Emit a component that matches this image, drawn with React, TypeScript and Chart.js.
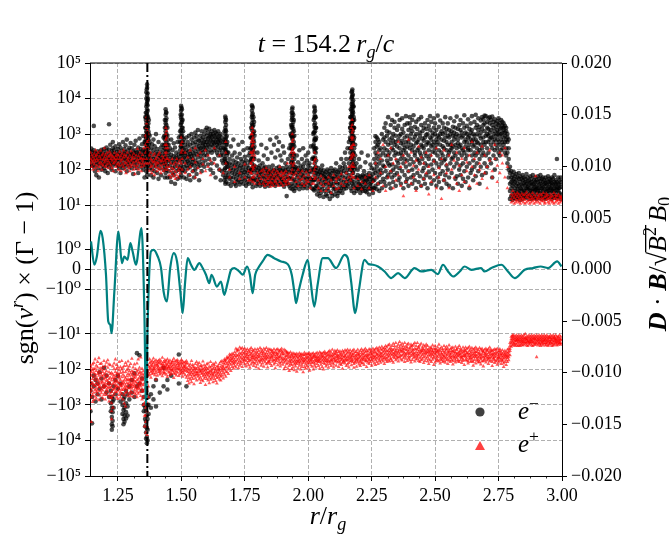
import React, { useEffect, useRef } from 'react';
import { Chart, registerables } from 'chart.js';

Chart.register(...registerables);

const SERIF = "'Liberation Serif', 'DejaVu Serif', serif";

// ---------------- data ----------------
const R_TICKS = [1.25, 1.5, 1.75, 2.0, 2.25, 2.5, 2.75, 3.0];
const GAMMA_TICKS = [1e5, 1e4, 1e3, 1e2, 10, 1, 0, -1, -10, -1e2, -1e3, -1e4, -1e5];
const GAMMA_TICK_LABELS = ['10⁵', '10⁴', '10³', '10²', '10¹', '10⁰', '0', '−10⁰', '−10¹', '−10²', '−10³', '−10⁴', '−10⁵'];
const DB_TICKS = [0.02, 0.015, 0.01, 0.005, 0, -0.005, -0.01, -0.015, -0.02];
const DB_TICK_LABELS = ['0.020', '0.015', '0.010', '0.005', '0.000', '−0.005', '−0.010', '−0.015', '−0.020'];
const SNAPSHOT_TIME = '154.2';
const MARKER_R = 1.366;

// D·B / sqrt(B^2) B0 profile (right axis)
const DB_PROFILE: [number, number][] = [
  [1.144, 0.00272], [1.157, 0.00046], [1.167, 0.00126], [1.181, 0.00375], [1.190, 0.00304], [1.203, -0.00051],
  [1.212, -0.00504], [1.220, -0.00536], [1.225, -0.00617], [1.236, -0.00213], [1.252, 0.00368], [1.266, 0.00062],
  [1.275, 0.00126], [1.288, 0.00094], [1.299, 0.00256], [1.308, 0.00175], [1.321, 0.00046], [1.343, 0.00401],
  [1.354, -0.00374], [1.361, -0.01311], [1.367, -0.00536], [1.380, 0.00175], [1.391, 0.00191], [1.407, 0.00126],
  [1.420, 0.00014], [1.430, -0.00213], [1.443, -0.0031], [1.456, 0.00014], [1.470, 0.00159], [1.483, 0.00078],
  [1.496, -0.00213], [1.505, -0.00423], [1.514, -0.00148], [1.525, 0.0011], [1.538, 0.00046], [1.551, -0.00003],
  [1.571, 0.00062], [1.584, 0.00014], [1.597, -0.00051], [1.610, -0.00132], [1.619, -0.00051], [1.640, -0.00165],
  [1.656, -0.00116], [1.669, -0.00245], [1.682, -0.00132], [1.696, -0.00003], [1.709, 0.00014], [1.728, -0.00019],
  [1.742, -0.00051], [1.759, 0.00029], [1.770, -0.00051], [1.781, -0.00229], [1.791, -0.00051], [1.803, 0.00014],
  [1.820, 0.00078], [1.840, 0.00142], [1.866, 0.0011], [1.893, 0.00078], [1.919, 0.00052], [1.935, -0.00051],
  [1.945, -0.00213], [1.952, -0.00326], [1.962, -0.00213], [1.978, -0.00051], [1.998, 0.00094], [2.008, -0.00083],
  [2.024, -0.00359], [2.037, -0.00148], [2.057, 0.0011], [2.077, 0.0011], [2.110, 0.00014], [2.143, 0.00142],
  [2.156, 0.0011], [2.169, -0.00116], [2.185, -0.00423], [2.199, -0.00213], [2.222, 0.00094], [2.238, 0.00052],
  [2.255, 0.00046], [2.275, 0.00029], [2.301, -0.00019], [2.327, -0.00083], [2.354, -0.00035], [2.380, -0.00083],
  [2.419, 0.00014], [2.446, -0.00019], [2.485, -0.00003], [2.511, -0.00045], [2.531, 0.00046], [2.551, -0.00019],
  [2.571, -0.00068], [2.597, -0.00019], [2.616, 0.00029], [2.643, -0.00003], [2.681, 0.00014], [2.695, -0.00019],
  [2.722, 0.00014], [2.761, 0.00046], [2.787, -0.00019], [2.814, -0.00083], [2.853, -0.00003], [2.886, 0.00014],
  [2.916, 0.00029], [2.945, 0.00014], [2.981, 0.00078], [2.998, 0.00029],
];

// electrons, sgn(v^r)(Γ-1) > 0 : [r, values...]
const ELECTRONS_UPPER: [number, number[]][] = [
  [1.140, [260, 180, 330]], [1.145, [150, 220, 390]], [1.150, [300, 130, 210]], [1.155, [350, 190, 260, 120, 1700]],
  [1.160, [230, 160, 90, 300]], [1.165, [200, 270, 140, 70]], [1.170, [180, 240, 330, 110]], [1.175, [150, 210, 60, 280]],
  [1.180, [250, 140, 320, 190]], [1.185, [170, 220, 100, 360]], [1.190, [260, 130, 300, 210]], [1.195, [150, 380, 240, 110]],
  [1.200, [190, 280, 160, 90]], [1.205, [230, 340, 130, 420]], [1.210, [200, 270, 150, 80]], [1.215, [360, 170, 230, 120, 1900]],
  [1.220, [290, 190, 140, 500]], [1.225, [220, 160, 330, 100]], [1.230, [250, 180, 400, 600, 130]], [1.235, [210, 290, 150, 350]],
  [1.240, [240, 170, 90, 450]], [1.245, [140, 230, 310, 190]],
  [1.250, [260, 380, 130, 200]], [1.255, [180, 520, 110, 300]], [1.260, [230, 150, 420, 80]], [1.265, [340, 200, 130, 260]],
  [1.270, [170, 600, 250, 110]], [1.275, [290, 140, 380, 210]], [1.280, [200, 480, 120, 310]], [1.285, [160, 260, 700, 90]],
  [1.290, [220, 350, 140, 180]], [1.295, [410, 190, 270, 120]], [1.300, [300, 150, 230, 560]], [1.305, [180, 400, 110, 260]],
  [1.310, [240, 320, 160, 75]], [1.315, [200, 500, 130, 290]], [1.320, [350, 170, 250, 650]], [1.325, [140, 300, 220, 110]],
  [1.330, [270, 420, 190, 80]], [1.335, [230, 160, 750, 320]], [1.340, [180, 380, 250, 120]], [1.345, [300, 140, 520, 210]],
  [1.350, [240, 880, 170, 100, 360]], [1.355, [200, 600, 300, 130, 60]],
  [1.358, [1500, 3000, 600, 350, 180]],
  [1.360, [500, 900, 1500, 2500, 4000, 200, 120, 300, 700]],
  [1.362, [3000, 6000, 10000, 15000, 800, 1200, 400, 2000, 250, 90]],
  [1.3635, [7000, 18000, 4000, 1100, 500]],
  [1.365, [20000, 25000, 12000, 8000, 5000, 3500, 1800, 1000, 600, 300, 150, 70]],
  [1.367, [14000, 9000, 6500, 4500, 2800, 1600, 900, 450, 180]],
  [1.3685, [10000, 3000, 1500, 700, 300]],
  [1.370, [2000, 1200, 700, 400, 250, 130]], [1.372, [1000, 500, 2500, 220]],
  [1.375, [300, 180, 600, 110, 900]], [1.380, [220, 400, 140, 70]], [1.385, [160, 280, 520, 100]], [1.390, [350, 200, 130, 700, 60]],
  [1.395, [240, 450, 170, 90]], [1.400, [190, 300, 1000, 120]], [1.405, [270, 150, 380, 80]], [1.410, [210, 600, 140, 55]],
  [1.415, [320, 180, 250, 110]], [1.420, [160, 420, 230, 70]], [1.425, [280, 140, 500, 200]], [1.430, [350, 190, 800, 100]],
  [1.433, [900, 500, 250, 150]],
  [1.435, [1500, 2500, 700, 400, 200, 120, 60]], [1.438, [5000, 3500, 2000, 1200, 800, 500, 300, 150, 80]],
  [1.4395, [4200, 2400, 1500, 900, 450, 220]],
  [1.441, [4000, 2800, 1800, 1000, 600, 350, 180, 100]], [1.445, [1500, 900, 500, 250, 130, 60]], [1.447, [700, 350, 180]],
  [1.450, [300, 180, 90, 500]], [1.455, [220, 130, 400, 60]], [1.460, [160, 700, 260, 45]], [1.465, [350, 110, 200, 80]],
  [1.470, [240, 150, 550, 70]], [1.475, [190, 420, 120, 40]], [1.480, [300, 160, 230, 90]], [1.485, [600, 210, 130, 55]],
  [1.490, [270, 800, 180, 100]],
  [1.495, [1200, 600, 350, 200, 110, 60]], [1.497, [3500, 1800, 900, 450]],
  [1.499, [6200, 4500, 3000, 2000, 1300, 800, 450, 250, 130, 70]], [1.5005, [5500, 2600, 1100, 600, 280]],
  [1.502, [5000, 3500, 2200, 1500, 900, 550, 300, 160, 90]], [1.505, [2500, 1500, 800, 400, 200, 100]], [1.507, [1200, 600, 300]],
  [1.510, [400, 220, 120, 700, 60]], [1.515, [300, 160, 500, 90, 250]], [1.520, [200, 800, 130, 350, 55]],
  [1.525, [450, 260, 110, 600, 170]], [1.530, [330, 150, 900, 230, 70]], [1.535, [500, 190, 280, 120, 50]],
  [1.540, [700, 240, 380, 140, 1000]], [1.545, [300, 550, 160, 90, 200]], [1.550, [420, 800, 250, 130, 60]],
  [1.555, [600, 330, 180, 1100, 100]], [1.560, [500, 270, 900, 150, 75]], [1.565, [380, 700, 220, 120, 1300]],
  [1.570, [650, 300, 450, 160, 50]], [1.575, [900, 400, 250, 130, 550]], [1.580, [350, 700, 1200, 200, 90]],
  [1.585, [550, 300, 800, 150, 450]], [1.590, [1000, 420, 600, 250, 120]], [1.595, [700, 1300, 350, 500, 180]],
  [1.600, [900, 600, 400, 1500, 250]], [1.605, [1100, 500, 750, 300, 140]], [1.610, [800, 1400, 450, 600, 200]],
  [1.615, [650, 1000, 350, 900, 100]],
  [1.620, [500, 800, 1200, 300, 150]], [1.625, [700, 1000, 450, 600, 80]], [1.630, [900, 550, 1300, 350, 200]],
  [1.635, [600, 800, 400, 1100, 60]], [1.640, [1000, 700, 500, 300, 130]], [1.645, [800, 1200, 450, 600, 250]],
  [1.650, [550, 900, 350, 700, 100]], [1.655, [400, 650, 1000, 250, 50]], [1.660, [300, 500, 800, 180, 90]],
  [1.665, [250, 150, 400, 70, 600]],
  [1.670, [1200, 700, 400, 200, 100, 50]], [1.673, [3100, 2200, 1500, 1000, 600, 350, 200, 110, 60, 40]],
  [1.6745, [2800, 1300, 700, 380, 170]],
  [1.676, [2500, 1800, 1200, 800, 500, 300, 150, 80, 45]], [1.679, [900, 500, 250, 120, 60]], [1.681, [600, 300, 150]],
  [1.685, [120, 70, 40, 300]], [1.690, [90, 150, 55, 200]], [1.695, [60, 110, 35, 450]], [1.700, [140, 80, 45, 250]],
  [1.705, [100, 60, 180, 700]], [1.710, [75, 130, 40, 300]], [1.715, [55, 95, 160, 35]], [1.720, [120, 70, 220, 45]],
  [1.725, [85, 150, 50, 500]], [1.730, [65, 110, 38, 280]], [1.735, [130, 80, 200, 45]], [1.740, [95, 55, 170, 600]],
  [1.745, [70, 120, 40, 350]], [1.750, [150, 85, 50, 230]], [1.755, [100, 60, 180, 35]], [1.760, [80, 130, 45, 400]],
  [1.765, [110, 65, 250, 40]], [1.770, [90, 160, 55, 300]], [1.7725, [800, 400, 180, 90]],
  [1.775, [1500, 800, 400, 200, 100, 50]], [1.778, [6500, 4500, 3000, 2000, 1300, 800, 500, 300, 150, 80, 40]],
  [1.7795, [6000, 3400, 1800, 900, 450, 220, 110]],
  [1.781, [5500, 3800, 2500, 1600, 1000, 600, 350, 200, 100, 55, 32]], [1.784, [3000, 1800, 1100, 700, 400, 220, 120, 60]],
  [1.7865, [2200, 1200, 600, 300, 130]], [1.788, [900, 450, 200, 100, 50]],
  [1.795, [80, 50, 120, 35]], [1.800, [60, 95, 40, 300]], [1.805, [110, 70, 45, 180]], [1.810, [55, 85, 35, 130]],
  [1.815, [75, 45, 100, 500]], [1.820, [90, 60, 38, 150]], [1.825, [65, 110, 42, 250]], [1.830, [50, 80, 120, 33]],
  [1.835, [100, 60, 40, 400]], [1.840, [70, 45, 90, 200]], [1.845, [55, 120, 35, 80]], [1.850, [85, 60, 40, 700]],
  [1.855, [65, 100, 45, 300]], [1.860, [75, 50, 130, 38]], [1.865, [95, 60, 40, 500]], [1.870, [55, 85, 35, 220]],
  [1.875, [110, 70, 45, 800]], [1.880, [65, 90, 40, 350]], [1.885, [80, 50, 120, 600]], [1.890, [60, 100, 38, 250]],
  [1.895, [90, 55, 40, 180]], [1.900, [70, 110, 45, 450]], [1.905, [50, 85, 33, 300]], [1.910, [95, 60, 40, 150]],
  [1.915, [75, 45, 120, 18]], [1.920, [60, 100, 40, 200]], [1.925, [85, 55, 35, 400]],
  [1.930, [1000, 500, 250, 120, 60, 30]], [1.9325, [1800, 900, 400, 160]],
  [1.935, [4000, 2500, 1500, 900, 500, 280, 150, 80, 40]], [1.9365, [5000, 3200, 1600, 800, 380, 180, 90]],
  [1.938, [5600, 4000, 2800, 1800, 1100, 700, 400, 220, 110, 55, 28]], [1.941, [3500, 2200, 1400, 850, 500, 280, 150, 75, 35]],
  [1.943, [2500, 1200, 600, 260, 120]], [1.945, [900, 450, 200, 100, 50, 25]],
  [1.950, [80, 45, 120, 30]], [1.955, [60, 100, 35, 250]], [1.960, [110, 70, 40, 160]], [1.965, [50, 85, 28, 350]],
  [1.970, [90, 55, 130, 35]], [1.975, [70, 40, 100, 200]], [1.980, [120, 65, 30, 400]], [1.985, [80, 50, 150, 35]],
  [1.990, [60, 95, 40, 250]], [1.995, [100, 55, 30, 180]], [2.000, [75, 45, 130, 300]], [2.005, [90, 60, 35, 150]],
  [2.010, [55, 110, 40, 450]], [2.015, [85, 50, 30, 200]],
  [2.020, [1000, 450, 220, 100, 50, 28]], [2.0215, [2500, 1100, 500, 200]],
  [2.024, [6000, 4200, 2800, 1800, 1100, 650, 380, 200, 100, 50, 26]], [2.0255, [5400, 3300, 1500, 750, 320, 150, 70]],
  [2.027, [4500, 3000, 2000, 1200, 700, 400, 220, 110, 55, 30]], [2.0295, [3000, 1500, 700, 300, 120]],
  [2.031, [1500, 800, 400, 180, 80, 35]],
  [2.035, [60, 35, 90, 20]], [2.040, [45, 75, 25, 110]], [2.045, [55, 30, 85, 18]], [2.050, [70, 40, 100, 22]],
  [2.055, [50, 28, 80, 130]], [2.060, [65, 35, 95, 17]], [2.065, [45, 75, 25, 60]], [2.070, [85, 40, 55, 20]],
  [2.075, [60, 30, 100, 18]], [2.080, [50, 75, 25, 40]], [2.085, [70, 35, 90, 15]], [2.090, [45, 60, 22, 110]],
  [2.095, [80, 35, 55, 18]], [2.100, [55, 90, 28, 40]], [2.105, [65, 30, 100, 20]], [2.110, [45, 75, 25, 150]],
  [2.115, [85, 40, 60, 18]], [2.120, [55, 30, 95, 22]], [2.125, [70, 40, 120, 25]], [2.130, [50, 85, 30, 200]],
  [2.135, [65, 35, 110, 22]], [2.140, [90, 45, 150, 28]], [2.145, [60, 120, 35, 300]], [2.150, [80, 45, 200, 30]],
  [2.155, [100, 55, 400, 35]], [2.160, [150, 70, 600, 40]],
  [2.165, [1500, 800, 400, 200, 100, 50]], [2.166, [3000, 1500, 700, 300]],
  [2.168, [5000, 3000, 2000, 1200, 700, 400, 220, 120, 60, 30]],
  [2.171, [15000, 10000, 7000, 4500, 3000, 1800, 1100, 650, 380, 200, 100, 50, 25]],
  [2.1725, [16000, 11000, 6000, 3800, 2000, 1000, 500, 220, 110]],
  [2.174, [18000, 12000, 8000, 5500, 3500, 2200, 1400, 850, 500, 280, 150, 80, 40]],
  [2.1755, [13000, 7000, 4500, 2500, 1200, 600, 260, 120]],
  [2.177, [9000, 6000, 4000, 2500, 1500, 900, 550, 300, 160, 80, 35]], [2.179, [6000, 3000, 1500, 700, 300, 130]],
  [2.181, [2500, 1500, 800, 400, 200, 100, 45, 22]], [2.185, [500, 250, 120, 60, 30]],
  [2.190, [60, 35, 25, 150]], [2.195, [45, 70, 30, 100]], [2.200, [55, 28, 40, 200]], [2.205, [65, 35, 22, 120]],
  [2.210, [40, 60, 28, 300]], [2.215, [50, 32, 70, 25]], [2.220, [45, 65, 30, 90]], [2.225, [55, 25, 40, 160]],
  [2.230, [70, 35, 50, 23]], [2.235, [45, 60, 28, 250]], [2.240, [55, 30, 80, 20]], [2.245, [40, 65, 35, 140]],
  [2.250, [60, 28, 45, 110]], [2.255, [50, 75, 30, 22]],
  [2.260, [200, 100, 50, 400, 30]], [2.265, [600, 300, 150, 80, 35, 870]], [2.270, [800, 450, 250, 120, 60, 28]],
  [2.275, [500, 700, 200, 90, 40]], [2.280, [350, 150, 600, 70, 25]], [2.285, [250, 100, 45, 400]],
  [2.290, [180, 80, 30, 1000]], [2.295, [300, 130, 55, 700]],
  [2.300, [1500, 400, 120, 45, 800]], [2.305, [250, 2000, 600, 90, 35]], [2.310, [900, 180, 60, 1200, 350]],
  [2.315, [500, 3000, 150, 70, 250]], [2.320, [1100, 300, 40, 700, 130]], [2.325, [200, 1800, 550, 85, 30]],
  [2.330, [800, 140, 2500, 400, 60]], [2.335, [350, 1000, 100, 45, 650]], [2.340, [1500, 250, 70, 500, 2200]],
  [2.345, [600, 120, 900, 35, 300]], [2.350, [180, 1300, 450, 80, 3500]], [2.355, [700, 280, 50, 1700, 150]],
  [2.360, [400, 2500, 110, 900, 60]], [2.365, [1000, 200, 550, 40, 300]], [2.370, [250, 1400, 90, 650, 2800]],
  [2.375, [500, 150, 1100, 30, 350]], [2.380, [1800, 400, 70, 800, 200]], [2.385, [300, 3200, 600, 120, 45]],
  [2.390, [900, 180, 2000, 55, 450]], [2.395, [600, 1300, 250, 90, 35]], [2.400, [3000, 400, 140, 750, 2000]],
  [2.405, [200, 1000, 60, 500, 1500]], [2.410, [1200, 350, 100, 2500, 40]], [2.415, [450, 3400, 700, 160, 70]],
  [2.420, [850, 250, 1600, 50, 300]], [2.425, [2200, 550, 120, 1000, 30]], [2.430, [350, 1400, 80, 600, 200]],
  [2.435, [700, 2600, 180, 45, 400]], [2.440, [1100, 300, 900, 65, 150]], [2.445, [500, 1800, 250, 35, 3000]],
  [2.450, [200, 750, 1200, 90, 450]], [2.455, [1500, 400, 110, 650, 55]], [2.460, [300, 2000, 800, 150, 40]],
  [2.465, [950, 240, 1400, 70, 500]], [2.470, [600, 1000, 130, 30, 2500]], [2.475, [350, 1700, 550, 85, 200]],
  [2.480, [1300, 250, 60, 800, 3200]], [2.485, [450, 2200, 140, 700, 40]], [2.490, [900, 320, 1100, 100, 500]],
  [2.495, [2800, 600, 180, 50, 1500]], [2.500, [400, 1000, 80, 300, 2000]], [2.505, [700, 150, 1300, 35, 500]],
  [2.510, [250, 900, 600, 60, 3300]], [2.515, [1600, 350, 120, 800, 45]], [2.520, [500, 2400, 200, 1000, 75]],
  [2.525, [300, 700, 1200, 30, 150]], [2.530, [1000, 450, 90, 2000, 250]], [2.535, [650, 1500, 180, 50, 400]],
  [2.540, [200, 800, 1100, 70, 3000]], [2.545, [1400, 350, 130, 600, 40]], [2.550, [500, 2000, 250, 900, 100]],
  [2.555, [800, 300, 1300, 60, 35]], [2.560, [350, 1000, 150, 2800, 500]], [2.565, [1200, 600, 80, 400, 200]],
  [2.570, [450, 1600, 220, 30, 900]], [2.575, [700, 300, 1100, 120, 2300]], [2.580, [250, 850, 500, 55, 1500]],
  [2.585, [1000, 400, 150, 3100, 65]], [2.590, [550, 1400, 200, 700, 40]], [2.595, [300, 900, 1800, 100, 450]],
  [2.600, [1300, 500, 130, 2500, 70]], [2.605, [400, 1100, 250, 800, 35]], [2.610, [900, 2000, 150, 350, 55]],
  [2.615, [600, 300, 1500, 90, 3400]], [2.620, [1100, 450, 200, 700, 45]], [2.625, [250, 1700, 600, 120, 1000]],
  [2.630, [800, 350, 2600, 60, 400]], [2.635, [1400, 500, 150, 900, 30]], [2.640, [350, 1100, 700, 80, 2000]],
  [2.645, [600, 250, 1300, 3200, 100]], [2.650, [1000, 450, 180, 700, 50]], [2.655, [2200, 300, 900, 120, 500]],
  [2.660, [700, 1500, 250, 3500, 65]], [2.665, [400, 1000, 150, 600, 1800]], [2.670, [1300, 550, 2800, 90, 300]],
  [2.675, [900, 350, 1600, 200, 40]], [2.680, [500, 2400, 750, 120, 1100]], [2.685, [3000, 400, 1400, 70, 250]],
  [2.690, [800, 1800, 300, 600, 2600]], [2.695, [1200, 500, 2000, 150, 3300]], [2.700, [600, 3200, 900, 250, 80]],
  [2.705, [1500, 400, 2200, 1000, 120]], [2.710, [900, 2800, 600, 300, 1400]], [2.715, [2000, 700, 3000, 200, 1100]],
  [2.720, [1300, 500, 2500, 800, 150]], [2.725, [800, 1800, 400, 3100, 60]], [2.730, [2200, 1000, 600, 250, 1500]],
  [2.735, [700, 2600, 1200, 350, 100]], [2.740, [1600, 500, 2000, 900, 200]], [2.745, [1000, 2300, 700, 400, 1300]],
  [2.750, [1800, 600, 2800, 300, 1100]], [2.755, [900, 2000, 1400, 500, 250]], [2.760, [1500, 700, 2500, 350, 1000]],
  [2.765, [2200, 1100, 600, 1700, 400]], [2.770, [1300, 800, 2000, 500, 1500]], [2.775, [900, 1700, 600, 1100, 300]],
  [2.780, [1500, 700, 1200, 400, 250]], [2.785, [1000, 600, 300, 800, 150]], [2.790, [400, 200, 100, 700, 60]],
  [2.795, [80, 40, 25, 120, 15]], [2.800, [60, 30, 18, 90, 45]], [2.805, [35, 70, 20, 50, 14]], [2.810, [25, 55, 40, 16, 85]],
  [2.815, [45, 30, 65, 18, 22]], [2.820, [20, 50, 35, 75, 15]], [2.825, [40, 28, 60, 17, 24]], [2.830, [55, 22, 35, 16, 80]],
  [2.835, [30, 45, 20, 65, 14]], [2.840, [38, 25, 55, 18, 28]], [2.845, [50, 20, 35, 70, 15]], [2.850, [27, 42, 18, 60, 22]],
  [2.855, [35, 55, 16, 25, 45]], [2.860, [22, 40, 30, 75, 17]], [2.865, [48, 28, 18, 60, 33]], [2.870, [30, 20, 50, 15, 38]],
  [2.875, [42, 26, 65, 17, 22]], [2.880, [25, 35, 55, 15, 45]], [2.885, [38, 20, 28, 70, 16]], [2.890, [50, 30, 18, 40, 24]],
  [2.895, [27, 45, 16, 60, 33]], [2.900, [35, 22, 50, 15, 28]], [2.905, [45, 30, 18, 65, 25]], [2.910, [22, 38, 55, 16, 30]],
  [2.915, [40, 25, 17, 48, 70]], [2.920, [30, 55, 20, 35, 15]], [2.925, [45, 25, 60, 18, 32]], [2.930, [28, 40, 16, 50, 22]],
  [2.935, [35, 20, 60, 15, 42]], [2.940, [50, 28, 18, 38, 24]], [2.945, [25, 45, 65, 16, 30]], [2.950, [40, 22, 55, 18, 33]],
  [2.955, [30, 50, 17, 27, 45]], [2.960, [42, 25, 60, 15, 35]], [2.965, [28, 38, 18, 55, 22]], [2.970, [45, 30, 16, 70, 25]],
  [2.975, [35, 22, 50, 18, 40]], [2.980, [27, 45, 200, 16, 32]], [2.985, [40, 25, 60, 18, 30]], [2.990, [50, 30, 17, 38, 22]],
  [2.995, [33, 45, 20, 60, 15]],
];

// electrons, sgn(v^r)(Γ-1) < 0
const ELECTRONS_LOWER: [number, number[]][] = [
  [1.142, [-1500, -400, -250]], [1.148, [-3300, -600]], [1.155, [-300, -150]], [1.162, [-800, -200]],
  [1.170, [-250, -500]], [1.178, [-120, -350]], [1.185, [-700, -180]], [1.195, [-300, -90]], [1.205, [-450, -150]],
  [1.215, [-250, -600]], [1.222, [-400, -900, -1500]], [1.226, [-600, -1200, -2200, -3500, -5000]],
  [1.229, [-800, -1600, -2800, -4000]], [1.233, [-300, -700, -1200]], [1.240, [-200, -500]], [1.250, [-150, -350]],
  [1.260, [-250, -800]], [1.268, [-500, -1000, -1800]], [1.272, [-700, -1400, -2500, -3500]],
  [1.276, [-600, -1200, -2000, -3000]], [1.282, [-400, -900, -1600, -2400]], [1.288, [-500, -1100, -2000]],
  [1.295, [-300, -700]], [1.305, [-200, -450]], [1.315, [-130, -600]], [1.325, [-35, -300]], [1.335, [-250, -40]],
  [1.345, [-400, -180]], [1.352, [-600, -1000, -1500]], [1.357, [-1200, -2500, -4000]],
  [1.361, [-1500, -3000, -6000, -9000]], [1.364, [-2000, -4500, -8000, -12000]], [1.367, [-1000, -2500, -5000, -10000]],
  [1.371, [-600, -1000, -1800]], [1.380, [-500, -1200]], [1.390, [-300, -700]], [1.400, [-1100, -200]], [1.415, [-450]],
  [1.430, [-90, -300]], [1.445, [-370, -200]], [1.460, [-150]], [1.490, [-38, -250]], [1.520, [-300]],
];

// positrons, > 0
const POSITRONS_UPPER: [number, number[]][] = [
  [1.142, [200, 150, 300]], [1.147, [250, 120, 180]], [1.152, [160, 220, 100]], [1.157, [280, 140, 190]],
  [1.162, [170, 240, 110, 350]], [1.167, [130, 200, 260]], [1.172, [180, 90, 300]], [1.177, [230, 150, 120]],
  [1.182, [200, 340, 160]], [1.187, [140, 250, 100]], [1.192, [190, 280, 130]], [1.197, [220, 160, 400]],
  [1.202, [120, 260, 180]], [1.207, [300, 140, 200]], [1.212, [170, 230, 110]], [1.217, [250, 150, 320]],
  [1.222, [130, 200, 270]], [1.227, [180, 110, 240]], [1.232, [220, 150, 90]], [1.237, [160, 300, 200]],
  [1.242, [120, 240, 180]], [1.247, [200, 140, 270]],
  [1.252, [150, 250, 100]], [1.257, [200, 130, 320]], [1.262, [170, 90, 240]], [1.267, [280, 140, 190]],
  [1.272, [120, 220, 350]], [1.277, [160, 100, 260]], [1.282, [230, 150, 80]], [1.287, [190, 300, 130]],
  [1.292, [110, 210, 170]], [1.297, [250, 140, 90]], [1.302, [180, 330, 120]], [1.307, [140, 230, 200]],
  [1.312, [100, 280, 160]], [1.317, [210, 130, 75]], [1.322, [170, 250, 110]], [1.327, [130, 190, 380]],
  [1.332, [240, 100, 160]], [1.337, [150, 300, 200]], [1.342, [120, 210, 90]], [1.347, [260, 150, 180]],
  [1.352, [200, 130, 400]],
  [1.359, [300, 500, 150, 900]], [1.363, [800, 1500, 3000, 2000, 400, 200]], [1.366, [1200, 2500, 600, 350, 150, 100]],
  [1.369, [700, 400, 250, 1000]],
  [1.374, [150, 250, 90]], [1.379, [200, 120, 300]], [1.384, [130, 180, 80]], [1.389, [250, 100, 160]],
  [1.394, [170, 280, 70]], [1.399, [120, 200, 140]], [1.404, [220, 90, 160]], [1.409, [150, 260, 110]],
  [1.414, [100, 190, 300]], [1.419, [170, 130, 80]], [1.424, [240, 110, 180]], [1.429, [140, 210, 90]],
  [1.436, [500, 300, 180, 100]], [1.439, [1500, 1000, 700, 400, 250, 150]], [1.442, [1200, 800, 500, 300, 200, 120]],
  [1.446, [400, 200, 100]],
  [1.452, [120, 70, 180]], [1.458, [90, 150, 60]], [1.464, [110, 200, 75]], [1.470, [140, 65, 100]],
  [1.476, [85, 160, 55]], [1.482, [120, 70, 200]], [1.488, [95, 150, 60]], [1.494, [180, 110, 80]],
  [1.499, [800, 500, 300, 150]], [1.503, [600, 350, 200, 100]],
  [1.515, [150, 80, 300]], [1.525, [220, 100]], [1.535, [120, 350, 70]], [1.545, [200, 90]], [1.555, [160, 400, 60]],
  [1.565, [110, 250]], [1.575, [300, 80]], [1.585, [140, 200]], [1.595, [90, 350]], [1.605, [250, 120]], [1.615, [180, 70]],
  [1.630, [150, 400]], [1.650, [100, 250]], [1.665, [80]], [1.675, [300, 150, 600]], [1.690, [60, 100]],
  [1.710, [45, 120]], [1.730, [80, 55]], [1.750, [60, 140]], [1.765, [90, 50]],
  [1.773, [150, 80, 300, 50]], [1.776, [600, 300, 150, 80, 1000]], [1.779, [1500, 1000, 700, 450, 250, 120, 60]],
  [1.782, [1200, 800, 500, 300, 180, 100, 45]], [1.785, [600, 350, 200, 110, 60]], [1.789, [250, 130, 70, 40]],
  [1.800, [50, 80]], [1.808, [40, 65]], [1.815, [55, 90]], [1.822, [70, 40, 100]], [1.828, [50, 85, 35]],
  [1.834, [65, 45, 110]], [1.840, [80, 38, 55]], [1.846, [60, 95, 42]], [1.852, [45, 70, 33]], [1.858, [85, 55, 40]],
  [1.864, [65, 35, 100]], [1.870, [50, 75, 45]], [1.876, [90, 40, 60]], [1.882, [55, 80, 35]], [1.888, [70, 45, 120]],
  [1.894, [40, 65, 85]], [1.900, [55, 35, 75]], [1.906, [80, 48, 60]], [1.912, [45, 90, 38]], [1.918, [65, 50, 150]],
  [1.924, [75, 40, 55]],
  [1.933, [300, 150, 80, 50]], [1.937, [1000, 600, 350, 200, 100]], [1.940, [700, 400, 250, 130, 60]], [1.944, [300, 150, 70]],
  [1.952, [45, 80]], [1.960, [60, 35, 100]], [1.968, [50, 75]], [1.976, [40, 90, 55]], [1.984, [65, 35]],
  [1.992, [50, 85, 40]], [2.000, [70, 45]], [2.008, [55, 30, 95]], [2.016, [40, 65]],
  [2.022, [150, 80, 40]], [2.025, [300, 180, 100, 55]], [2.029, [200, 120, 60]],
  [2.040, [30, 50]], [2.050, [40, 25, 65]], [2.060, [35, 55]], [2.070, [45, 25]], [2.080, [30, 60, 40]], [2.090, [50, 22]],
  [2.100, [35, 70]], [2.110, [45, 28, 55]], [2.120, [60, 30]], [2.130, [40, 75]], [2.140, [55, 35]], [2.150, [80, 45]],
  [2.160, [120, 60]],
  [2.167, [400, 200, 100, 50]], [2.170, [1500, 800, 450, 250, 130, 70]], [2.173, [2500, 1800, 1100, 700, 400, 220, 120, 60]],
  [2.176, [1300, 800, 500, 280, 150, 80]], [2.180, [500, 250, 120, 60, 30]],
  [2.195, [35, 55]], [2.210, [28, 45]], [2.225, [40, 60]], [2.240, [30, 70]], [2.255, [45, 25]],
  [2.265, [150, 60]], [2.275, [300, 40]], [2.285, [80, 200]], [2.295, [35, 500]], [2.305, [120, 25]], [2.315, [60, 250]],
  [2.325, [400, 90]], [2.335, [30, 150]], [2.345, [200, 50]], [2.355, [70, 600]], [2.365, [120, 35]], [2.375, [250, 18]],
  [2.385, [45, 160]], [2.395, [90, 700]], [2.405, [300, 40]], [2.415, [60, 130]], [2.425, [180, 25]], [2.435, [100, 450]],
  [2.445, [35, 220]], [2.455, [150, 55]], [2.465, [80, 300]], [2.475, [20, 120]], [2.485, [250, 45]], [2.495, [70, 170]],
  [2.505, [400, 30]], [2.515, [110, 60]], [2.525, [200, 15]], [2.535, [50, 350]], [2.545, [140, 80]], [2.555, [30, 250]],
  [2.565, [100, 500]], [2.575, [60, 180]], [2.585, [300, 40]], [2.595, [130, 25]], [2.605, [200, 70]], [2.615, [45, 400]],
  [2.625, [160, 90]], [2.635, [35, 250]], [2.645, [120, 600]], [2.655, [70, 200]], [2.665, [300, 40]], [2.675, [150, 100]],
  [2.685, [55, 450]], [2.695, [250, 80]], [2.705, [120, 30]], [2.715, [350, 180]], [2.725, [90, 60]], [2.735, [200, 500]],
  [2.745, [45, 130]], [2.755, [300, 80]], [2.765, [150, 250]], [2.775, [60, 400]], [2.785, [120, 30]],
  [2.800, [15, 20, 12]], [2.806, [13, 18, 25]], [2.812, [16, 11, 21]], [2.818, [14, 19, 12]], [2.824, [17, 13, 22]],
  [2.830, [12, 15, 20]], [2.836, [18, 14, 11]], [2.842, [13, 21, 16]], [2.848, [15, 12, 19]], [2.854, [20, 14, 11]],
  [2.860, [12, 17, 23]], [2.866, [16, 13, 19]], [2.872, [14, 20, 11]], [2.878, [18, 12, 15]], [2.884, [13, 16, 22]],
  [2.890, [19, 11, 14]], [2.896, [12, 17, 65]], [2.902, [15, 21, 13]], [2.908, [18, 12, 16]], [2.914, [11, 14, 20]],
  [2.920, [16, 19, 13]], [2.926, [13, 22, 15]], [2.932, [17, 12, 11]], [2.938, [14, 18, 21]], [2.944, [12, 15, 19]],
  [2.950, [16, 13, 11]], [2.956, [20, 14, 17]], [2.962, [13, 18, 12]], [2.968, [15, 11, 22]], [2.974, [12, 16, 19]],
  [2.980, [18, 13, 14]], [2.986, [14, 20, 11]], [2.992, [16, 12, 18]], [2.998, [13, 17, 15]],
];

// positrons, < 0
const POSITRONS_LOWER: [number, number[]][] = [
  [1.140, [-210, -75, -460, -130, -1300, -95, -320]], [1.145, [-150, -610, -88, -3000, -260, -118, -400]],
  [1.150, [-340, -105, -72, -520, -185, -240, -820]], [1.155, [-125, -450, -275, -66, -160, -720, -98]],
  [1.160, [-95, -200, -380, -140, -580, -52, -290]], [1.165, [-430, -78, -170, -240, -110, -350, -660]],
  [1.170, [-280, -135, -62, -500, -195, -88, -400]], [1.175, [-115, -320, -220, -730, -48, -150, -265]],
  [1.180, [-180, -92, -410, -125, -305, -550, -70]], [1.185, [-68, -250, -145, -360, -470, -102, -215]],
  [1.190, [-305, -160, -85, -230, -640, -118, -390]], [1.195, [-140, -520, -270, -58, -190, -330, -100]],
  [1.200, [-240, -80, -130, -455, -175, -700, -290]], [1.205, [-375, -112, -205, -65, -300, -155, -520]],
  [1.210, [-90, -260, -420, -150, -55, -210, -345]], [1.215, [-185, -580, -120, -310, -240, -800, -72]],
  [1.220, [-330, -135, -76, -480, -170, -255, -610]], [1.225, [-125, -430, -890, -1500, -2500, -205, -300, -640]],
  [1.230, [-260, -82, -560, -1200, -175, -380, -140]], [1.235, [-150, -355, -98, -235, -500, -68, -190]],
  [1.240, [-420, -118, -280, -165, -52, -330, -220]], [1.245, [-95, -205, -610, -135, -290, -440, -75]],
  [1.250, [-310, -160, -88, -400, -230, -130, -680]], [1.255, [-180, -520, -245, -62, -355, -105, -150]],
  [1.260, [-125, -290, -440, -198, -86, -620, -265]], [1.265, [-370, -100, -165, -300, -58, -240, -480]],
  [1.270, [-220, -700, -140, -380, -118, -270, -90]], [1.275, [-160, -335, -905, -80, -205, -530, -250]],
  [1.280, [-290, -120, -460, -1100, -180, -66, -360]], [1.285, [-105, -240, -155, -420, -310, -78, -200]],
  [1.290, [-345, -190, -570, -95, -265, -135, -60]], [1.295, [-200, -82, -330, -150, -480, -235, -112]],
  [1.300, [-130, -415, -260, -70, -185, -560, -300]], [1.305, [-275, -145, -50, -350, -110, -220, -450]],
  [1.310, [-88, -310, -195, -590, -160, -250, -120]], [1.315, [-390, -215, -130, -72, -280, -470, -175]],
  [1.320, [-160, -98, -340, -230, -510, -140, -300]], [1.325, [-250, -600, -115, -365, -68, -200, -420]],
  [1.330, [-140, -285, -190, -52, -330, -480, -105]], [1.335, [-355, -125, -240, -440, -90, -170, -270]],
  [1.340, [-205, -555, -150, -300, -46, -235, -120]], [1.345, [-95, -360, -180, -700, -265, -135, -420]],
  [1.350, [-280, -150, -1000, -410, -112, -600, -200]], [1.355, [-170, -900, -2000, -4000, -360, -240, -130]],
  [1.360, [-505, -1200, -3000, -6000, -2000, -800, -250]], [1.365, [-150, -400, -1500, -7000, -4000, -250, -900]],
  [1.370, [-82, -148, -303, -605, -121]],
  [1.375, [-88, -52, -140, -67, -101]], [1.380, [-63, -118, -79, -95, -170]], [1.385, [-110, -72, -58, -134, -83]],
  [1.390, [-49, -92, -125, -106, -66]], [1.395, [-77, -145, -61, -87, -99]], [1.400, [-128, -55, -71, -112, -190]],
  [1.405, [-94, -80, -150, -62, -74]], [1.410, [-57, -103, -86, -120, -68]], [1.415, [-115, -65, -97, -53, -138]],
  [1.420, [-73, -130, -60, -89, -108]], [1.425, [-99, -47, -82, -155, -70]], [1.430, [-62, -91, -117, -76, -132]],
  [1.435, [-84, -126, -54, -104, -64]], [1.440, [-140, -70, -93, -59, -81]], [1.445, [-52, -109, -75, -162, -96]],
  [1.450, [-90, -61, -122, -85, -67]], [1.455, [-119, -78, -56, -98, -143]], [1.460, [-66, -135, -88, -72, -105]],
  [1.465, [-101, -58, -113, -64, -83]], [1.470, [-75, -95, -50, -127, -175]], [1.475, [-133, -69, -87, -108, -60]],
  [1.480, [-57, -116, -79, -92, -148]], [1.485, [-96, -63, -124, -55, -71]], [1.490, [-80, -152, -68, -102, -89]],
  [1.495, [-61, -98, -115, -74, -137]], [1.500, [-107, -54, -86, -129, -66]], [1.505, [-72, -121, -95, -60, -160]],
  [1.510, [-130, -81, -65, -110, -90]], [1.515, [-86, -63, -145, -76, -104]], [1.520, [-68, -112, -92, -170, -58]],
  [1.525, [-95, -150, -68, -210, -118]], [1.530, [-132, -80, -176, -105, -250]], [1.535, [-72, -115, -142, -90, -195]],
  [1.540, [-165, -98, -58, -125, -230]], [1.545, [-110, -185, -84, -140, -75]], [1.550, [-88, -128, -260, -102, -155]],
  [1.555, [-145, -70, -115, -180, -92]], [1.560, [-62, -138, -97, -205, -120]], [1.565, [-118, -86, -160, -74, -135]],
  [1.570, [-190, -105, -66, -148, -95]], [1.575, [-80, -122, -170, -112, -240]], [1.580, [-135, -90, -78, -198, -108]],
  [1.585, [-100, -155, -125, -60, -215]], [1.590, [-76, -112, -182, -94, -142]], [1.595, [-162, -130, -85, -275, -104]],
  [1.600, [-92, -72, -140, -118, -185]], [1.605, [-125, -205, -98, -150, -68]], [1.610, [-84, -115, -170, -132, -245]],
  [1.615, [-150, -90, -62, -110, -195]], [1.620, [-106, -178, -135, -80, -122]], [1.625, [-70, -142, -96, -230, -160]],
  [1.630, [-130, -88, -118, -75, -185]], [1.635, [-98, -210, -152, -108, -65]], [1.640, [-175, -120, -84, -140, -250]],
  [1.645, [-80, -104, -165, -128, -92]], [1.650, [-145, -70, -115, -190, -100]], [1.655, [-88, -160, -132, -62, -205]],
  [1.660, [-110, -78, -98, -150, -58]], [1.665, [-66, -125, -84, -180, -94]], [1.670, [-102, -58, -140, -72, -52]],
  [1.675, [-55, -90, -115, -64, -160]], [1.680, [-85, -50, -70, -120, -45]], [1.685, [-62, -100, -48, -78, -135]],
  [1.690, [-44, -68, -92, -56, -38]], [1.695, [-74, -40, -58, -110, -50]], [1.700, [-52, -85, -36, -64, -44]],
  [1.705, [-38, -60, -95, -48, -70]], [1.710, [-66, -42, -55, -33, -80]],
  [1.715, [-38, -26, -61, -47, -88]], [1.720, [-55, -31, -42, -74, -28]], [1.725, [-29, -66, -39, -50, -93]],
  [1.730, [-44, -24, -58, -35, -79]], [1.735, [-62, -37, -27, -48, -70]], [1.740, [-33, -52, -85, -41, -25]],
  [1.745, [-47, -29, -64, -36, -56]], [1.750, [-26, -43, -71, -53, -34]], [1.755, [-58, -38, -30, -82, -45]],
  [1.760, [-35, -67, -49, -27, -40]], [1.765, [-51, -31, -44, -76, -60]], [1.770, [-28, -57, -39, -33, -90]],
  [1.775, [-46, -72, -25, -54, -37]], [1.780, [-63, -34, -48, -29, -42]], [1.785, [-30, -50, -80, -41, -65]],
  [1.790, [-54, -27, -36, -69, -45]], [1.795, [-39, -61, -32, -48, -86]], [1.800, [-27, -44, -73, -35, -53]],
  [1.805, [-60, -30, -46, -40, -95]], [1.810, [-36, -55, -25, -65, -43]], [1.815, [-49, -33, -78, -28, -57]],
  [1.820, [-31, -68, -42, -52, -37]], [1.825, [-57, -26, -47, -84, -34]], [1.830, [-42, -38, -63, -29, -50]],
  [1.835, [-25, -53, -35, -71, -45]], [1.840, [-66, -40, -30, -48, -88]], [1.845, [-34, -59, -44, -27, -62]],
  [1.850, [-48, -28, -70, -38, -55]], [1.855, [-29, -46, -33, -80, -41]], [1.860, [-61, -36, -52, -31, -44]],
  [1.865, [-40, -73, -27, -56, -35]], [1.870, [-53, -32, -45, -66, -92]], [1.875, [-35, -58, -39, -28, -49]],
  [1.880, [-27, -43, -76, -50, -37]], [1.885, [-64, -34, -55, -30, -46]], [1.890, [-45, -69, -29, -41, -83]],
  [1.895, [-31, -51, -62, -36, -26]], [1.900, [-56, -38, -47, -74, -33]], [1.905, [-37, -65, -28, -52, -98]],
  [1.910, [-50, -30, -43, -85, -60]], [1.915, [-42, -71, -35, -55, -32]], [1.920, [-66, -39, -48, -95, -34]],
  [1.925, [-36, -58, -80, -44, -110]], [1.930, [-52, -33, -70, -45, -62]], [1.935, [-75, -41, -56, -38, -98]],
  [1.940, [-44, -63, -35, -88, -50]], [1.945, [-59, -37, -105, -47, -72]], [1.950, [-38, -82, -54, -66, -42]],
  [1.955, [-70, -45, -36, -60, -115]], [1.960, [-48, -92, -62, -40, -55]], [1.965, [-35, -57, -78, -44, -68]],
  [1.970, [-63, -42, -100, -51, -38]], [1.975, [-46, -74, -55, -37, -85]], [1.980, [-58, -39, -66, -120, -48]],
  [1.985, [-40, -86, -52, -61, -34]], [1.990, [-72, -47, -38, -56, -95]], [1.995, [-50, -64, -43, -80, -36]],
  [2.000, [-37, -58, -90, -46, -68]], [2.005, [-65, -41, -53, -35, -108]], [2.010, [-45, -76, -60, -39, -52]],
  [2.015, [-55, -36, -84, -48, -66]], [2.020, [-42, -63, -47, -100, -35]], [2.025, [-68, -39, -56, -44, -78]],
  [2.030, [-36, -52, -88, -60, -45]], [2.035, [-58, -43, -34, -70, -50]], [2.040, [-47, -80, -55, -38, -62]],
  [2.045, [-33, -60, -44, -95, -52]], [2.050, [-64, -40, -50, -35, -74]], [2.055, [-42, -57, -86, -46, -36]],
  [2.060, [-53, -34, -66, -44, -100]], [2.065, [-38, -70, -48, -58, -32]], [2.070, [-60, -44, -36, -82, -51]],
  [2.075, [-35, -55, -74, -41, -64]], [2.080, [-49, -32, -58, -90, -40]], [2.085, [-62, -38, -45, -30, -70]],
  [2.090, [-34, -53, -80, -42, -57]], [2.095, [-56, -28, -40, -66, -47]], [2.100, [-41, -72, -35, -50, -88]],
  [2.105, [-30, -48, -61, -37, -55]], [2.110, [-58, -36, -44, -78, -32]], [2.115, [-45, -64, -29, -52, -40]],
  [2.120, [-33, -50, -85, -42, -60]], [2.125, [-61, -38, -47, -31, -70]], [2.130, [-40, -75, -55, -35, -48]],
  [2.135, [-52, -30, -42, -66, -95]], [2.140, [-36, -58, -33, -46, -62]], [2.145, [-68, -41, -53, -29, -44]],
  [2.150, [-31, -50, -80, -38, -57]], [2.155, [-55, -35, -45, -72, -28]], [2.160, [-43, -66, -32, -52, -88]],
  [2.165, [-29, -48, -60, -40, -36]], [2.170, [-58, -34, -44, -76, -50]], [2.175, [-38, -62, -30, -54, -42]],
  [2.180, [-47, -28, -70, -36, -90]], [2.185, [-60, -42, -51, -33, -65]], [2.190, [-32, -55, -40, -84, -46]],
  [2.195, [-50, -37, -64, -28, -56]], [2.200, [-41, -72, -34, -48, -38]], [2.205, [-57, -30, -45, -62, -80]],
  [2.210, [-35, -52, -27, -41, -68]], [2.215, [-48, -66, -38, -31, -55]], [2.220, [-29, -44, -75, -50, -36]],
  [2.225, [-54, -33, -42, -60, -26]], [2.230, [-40, -58, -30, -85, -47]], [2.235, [-31, -49, -65, -37, -43]],
  [2.240, [-52, -27, -40, -56, -70]], [2.245, [-36, -62, -33, -46, -28]], [2.250, [-45, -30, -54, -78, -38]],
  [2.255, [-26, -41, -35, -60, -50]], [2.260, [-48, -32, -68, -42, -29]], [2.265, [-34, -55, -27, -45, -75]],
  [2.270, [-40, -25, -50, -36, -62]], [2.275, [-30, -46, -38, -70, -28]], [2.280, [-52, -33, -42, -24, -58]],
  [2.285, [-27, -40, -65, -35, -47]], [2.290, [-44, -29, -36, -55, -23]], [2.295, [-33, -60, -42, -26, -50]],
  [2.300, [-25, -38, -30, -48, -70]], [2.305, [-46, -28, -55, -35, -22]], [2.310, [-31, -50, -24, -40, -62]],
  [2.315, [-37, -21, -45, -30, -56]], [2.320, [-27, -42, -34, -60, -20]], [2.325, [-49, -25, -37, -30, -52]],
  [2.330, [-22, -33, -58, -40, -28]], [2.335, [-36, -19, -29, -45, -65]], [2.340, [-26, -48, -35, -22, -40]],
  [2.345, [-41, -30, -55, -18, -33]], [2.350, [-23, -37, -27, -50, -44]], [2.355, [-34, -20, -46, -31, -60]],
  [2.360, [-45, -28, -24, -38, -17]], [2.365, [-21, -52, -33, -42, -29]], [2.370, [-30, -25, -40, -19, -56]],
  [2.375, [-38, -22, -48, -32, -27]], [2.380, [-26, -44, -18, -35, -62]], [2.385, [-50, -29, -37, -23, -41]],
  [2.390, [-24, -34, -58, -28, -20]], [2.395, [-36, -19, -43, -31, -50]], [2.400, [-28, -46, -25, -55, -36]],
  [2.405, [-42, -23, -33, -20, -64]], [2.410, [-31, -54, -27, -38, -22]], [2.415, [-20, -35, -47, -29, -40]],
  [2.420, [-45, -26, -36, -60, -18]], [2.425, [-27, -41, -22, -33, -52]], [2.430, [-37, -18, -50, -28, -44]],
  [2.435, [-23, -32, -40, -58, -25]], [2.440, [-48, -29, -21, -36, -62]], [2.445, [-30, -44, -34, -19, -55]],
  [2.450, [-39, -24, -52, -31, -27]], [2.455, [-21, -36, -28, -46, -66]], [2.460, [-43, -30, -58, -23, -35]],
  [2.465, [-26, -50, -38, -33, -20]], [2.470, [-34, -22, -45, -60, -29]], [2.475, [-52, -32, -27, -40, -70]],
  [2.480, [-24, -41, -35, -56, -30]], [2.485, [-37, -28, -62, -25, -46]], [2.490, [-30, -53, -21, -39, -33]],
  [2.495, [-44, -26, -48, -35, -75]], [2.500, [-27, -38, -31, -64, -22]], [2.505, [-50, -34, -42, -28, -58]],
  [2.510, [-33, -24, -55, -45, -30]], [2.515, [-40, -60, -29, -36, -20]], [2.520, [-26, -44, -52, -31, -68]],
  [2.525, [-55, -35, -24, -47, -38]], [2.530, [-30, -50, -40, -27, -62]], [2.535, [-45, -22, -58, -34, -42]],
  [2.540, [-36, -65, -31, -49, -26]], [2.545, [-28, -40, -46, -23, -55]], [2.550, [-52, -33, -26, -70, -38]],
  [2.555, [-34, -57, -44, -30, -21]], [2.560, [-41, -27, -62, -37, -48]], [2.565, [-25, -46, -35, -54, -30]],
  [2.570, [-58, -31, -42, -24, -72]], [2.575, [-32, -50, -28, -45, -38]], [2.580, [-44, -23, -56, -34, -64]],
  [2.585, [-29, -40, -48, -27, -36]], [2.590, [-54, -35, -25, -60, -43]], [2.595, [-37, -62, -32, -41, -22]],
  [2.600, [-26, -46, -38, -55, -30]], [2.605, [-48, -29, -66, -35, -44]], [2.610, [-33, -52, -24, -42, -58]],
  [2.615, [-42, -28, -37, -75, -31]], [2.620, [-24, -45, -54, -30, -40]], [2.625, [-57, -34, -27, -49, -36]],
  [2.630, [-35, -60, -42, -25, -68]], [2.635, [-46, -30, -52, -38, -23]], [2.640, [-28, -48, -35, -62, -42]],
  [2.645, [-40, -25, -58, -32, -50]], [2.650, [-62, -37, -45, -28, -78]], [2.655, [-31, -54, -26, -43, -36]],
  [2.660, [-45, -33, -68, -39, -24]], [2.665, [-27, -50, -41, -57, -32]], [2.670, [-55, -36, -29, -46, -64]],
  [2.675, [-38, -62, -34, -25, -44]], [2.680, [-48, -28, -52, -40, -72]], [2.685, [-30, -44, -37, -60, -26]],
  [2.690, [-58, -33, -46, -31, -82]], [2.695, [-36, -55, -28, -42, -50]], [2.700, [-44, -26, -64, -38, -34]],
  [2.705, [-29, -48, -40, -56, -30]], [2.710, [-52, -35, -27, -45, -70]], [2.715, [-40, -60, -33, -24, -48]],
  [2.720, [-31, -46, -56, -37, -28]], [2.725, [-62, -38, -43, -30, -80]], [2.730, [-35, -52, -29, -48, -40]],
  [2.735, [-45, -27, -66, -36, -55]], [2.740, [-28, -43, -38, -60, -32]], [2.745, [-56, -35, -50, -26, -74]],
  [2.750, [-39, -64, -31, -44, -47]], [2.755, [-48, -30, -58, -36, -27]], [2.760, [-33, -52, -42, -70, -38]],
  [2.765, [-60, -37, -46, -29, -55]], [2.770, [-42, -68, -34, -50, -85]], [2.775, [-36, -47, -62, -40, -30]],
  [2.780, [-55, -40, -75, -45, -33]], [2.785, [-48, -35, -62, -42, -28]], [2.790, [-32, -45, -26, -55, -38]],
  [2.795, [-22, -30, -18, -40, -26]],
  [2.800, [-14, -19, -12, -23, -16]], [2.805, [-17, -12, -21, -14, -11]], [2.810, [-13, -20, -15, -11, -18]],
  [2.815, [-19, -14, -22, -12, -16]], [2.820, [-11, -16, -13, -20, -15]], [2.825, [-18, -12, -15, -22, -14]],
  [2.830, [-15, -21, -11, -17, -13]], [2.835, [-12, -16, -19, -14, -22]], [2.840, [-20, -13, -15, -11, -17]],
  [2.845, [-14, -18, -12, -21, -16]], [2.850, [-17, -11, -20, -13, -15]], [2.855, [-13, -19, -14, -17, -10]],
  [2.860, [-21, -15, -12, -18, -14]], [2.865, [-12, -17, -22, -14, -16]], [2.870, [-16, -13, -11, -20, -18]],
  [2.875, [-19, -14, -17, -12, -15]], [2.880, [-11, -21, -15, -13, -17]], [2.885, [-18, -12, -16, -22, -14]],
  [2.890, [-14, -17, -13, -11, -20]], [2.895, [-20, -15, -18, -14, -12]], [2.900, [-13, -45, -16, -19, -11]],
  [2.905, [-17, -12, -21, -15, -14]], [2.910, [-15, -19, -13, -11, -18]], [2.915, [-12, -16, -20, -14, -22]],
  [2.920, [-19, -13, -15, -17, -11]], [2.925, [-14, -21, -12, -16, -18]], [2.930, [-16, -11, -19, -13, -15]],
  [2.935, [-21, -15, -14, -18, -12]], [2.940, [-13, -18, -11, -16, -20]], [2.945, [-17, -14, -22, -12, -15]],
  [2.950, [-12, -20, -16, -19, -13]], [2.955, [-18, -13, -15, -11, -17]], [2.960, [-15, -22, -12, -14, -19]],
  [2.965, [-11, -16, -18, -21, -13]], [2.970, [-20, -14, -13, -16, -12]], [2.975, [-14, -19, -17, -11, -15]],
  [2.980, [-16, -12, -21, -18, -14]], [2.985, [-13, -17, -15, -12, -20]], [2.990, [-19, -14, -11, -16, -18]],
  [2.995, [-12, -18, -20, -14, -15]],
];

// ---------------- symlog axis (linthresh 2, linscale 1) ----------------
const LINTHRESH = 2;
const LINSCALE_ADJ = 1 / (1 - 1 / 10);
function symlog(v: number): number {
  const a = Math.abs(v);
  if (a <= LINTHRESH) return (v / LINTHRESH) * LINSCALE_ADJ;
  return Math.sign(v) * (LINSCALE_ADJ + Math.log10(a / LINTHRESH));
}

const toPoints = (cols: [number, number[]][]) =>
  cols.flatMap(([x, ys]) => ys.map((y) => ({ x, y: symlog(y) })));

// ---------------- rich text helper ----------------
type Run = { t: string; it?: boolean; b?: boolean; s?: number; dy?: number; over?: boolean };
function runFont(r: Run, base: number) {
  return `${r.it ? 'italic ' : ''}${r.b ? 'bold ' : ''}${(base * (r.s ?? 1)).toFixed(1)}px ${SERIF}`;
}
function drawRuns(ctx: CanvasRenderingContext2D, runs: Run[], base: number, x: number, y: number, align: 'center' | 'left') {
  const ws = runs.map((r) => {
    ctx.font = runFont(r, base);
    return ctx.measureText(r.t).width;
  });
  const total = ws.reduce((a, b) => a + b, 0);
  let cx = align === 'center' ? x - total / 2 : x;
  let overStart: number | null = null;
  let overEnd = 0;
  let overY = 0;
  runs.forEach((r, i) => {
    ctx.font = runFont(r, base);
    ctx.fillText(r.t, cx, y + (r.dy ?? 0) * base);
    if (r.t === '√') {
      const m = ctx.measureText('√');
      overY = y - m.actualBoundingBoxAscent;
      overStart = cx + m.actualBoundingBoxRight - 1;
    }
    if (r.over) overEnd = cx + ws[i];
    cx += ws[i];
  });
  if (overStart !== null) ctx.fillRect(overStart, overY, overEnd - overStart + 2, Math.max(1, base * 0.05));
}

const decorPlugin = {
  id: 'decor',
  afterDatasetsDraw(chart: any) {
    const { ctx, chartArea: a, scales } = chart;
    const px = scales.x.getPixelForValue(MARKER_R);
    ctx.save();
    ctx.strokeStyle = '#000';
    ctx.lineWidth = 2;
    ctx.setLineDash([9, 3, 2, 3]);
    ctx.beginPath();
    ctx.moveTo(px, a.top);
    ctx.lineTo(px, a.bottom);
    ctx.stroke();
    ctx.restore();
  },
  afterDraw(chart: any) {
    const { ctx, chartArea: a, scales } = chart;
    ctx.save();
    ctx.fillStyle = '#000';
    ctx.fillRect(a.left, a.top - 0.5, a.right - a.left, 1);
    ctx.strokeStyle = '#000';
    ctx.lineWidth = 0.8;
    for (let v = 1.1875; v < 3.0; v += 0.0625) {
      if (R_TICKS.some((t) => Math.abs(t - v) < 1e-6)) continue;
      const x = Math.round(scales.x.getPixelForValue(v)) + 0.5;
      ctx.beginPath();
      ctx.moveTo(x, a.bottom);
      ctx.lineTo(x, a.bottom + 2.5);
      ctx.stroke();
    }
    ctx.fillStyle = '#000';
    ctx.textBaseline = 'alphabetic';
    const cxm = (a.left + a.right) / 2;
    drawRuns(ctx, [
      { t: 't', it: true }, { t: ' = ' }, { t: SNAPSHOT_TIME }, { t: '\u2009' }, { t: 'r', it: true },
      { t: 'g', it: true, s: 0.7, dy: 0.22 }, { t: '/' }, { t: 'c', it: true },
    ], 26, cxm, 52, 'center');
    drawRuns(ctx, [
      { t: 'r', it: true }, { t: '/' }, { t: 'r', it: true }, { t: 'g', it: true, s: 0.7, dy: 0.22 },
    ], 26, cxm + 2, 524, 'center');
    ctx.save();
    ctx.translate(33, 278);
    ctx.rotate(-Math.PI / 2);
    drawRuns(ctx, [
      { t: 'sgn(' }, { t: 'v', it: true }, { t: 'r', it: true, s: 0.7, dy: -0.38 }, { t: ')' }, { t: ' × ' },
      { t: '(Γ − 1)' },
    ], 26, 0, 0, 'center');
    ctx.restore();
    ctx.save();
    ctx.translate(666, 264);
    ctx.rotate(-Math.PI / 2);
    drawRuns(ctx, [
      { t: 'D', it: true, b: true }, { t: ' · ' }, { t: 'B', it: true, b: true }, { t: '/' }, { t: '√' },
      { t: 'B', it: true, over: true }, { t: '2', s: 0.7, dy: -0.4, over: true }, { t: '\u2009' },
      { t: 'B', it: true }, { t: '0', s: 0.7, dy: 0.2 },
    ], 26, 0, 0, 'center');
    ctx.restore();
    ctx.fillStyle = 'rgba(0,0,0,0.75)';
    ctx.beginPath();
    ctx.arc(480, 412, 4.6, 0, Math.PI * 2);
    ctx.fill();
    ctx.fillStyle = 'rgba(255,0,0,0.75)';
    ctx.beginPath();
    ctx.moveTo(480, 441);
    ctx.lineTo(485, 450);
    ctx.lineTo(475, 450);
    ctx.closePath();
    ctx.fill();
    ctx.fillStyle = '#000';
    drawRuns(ctx, [{ t: 'e', it: true }, { t: '−', s: 0.7, dy: -0.42 }], 25, 518, 419, 'left');
    drawRuns(ctx, [{ t: 'e', it: true }, { t: '+', s: 0.7, dy: -0.42 }], 25, 518, 452, 'left');
    ctx.restore();
  },
};

export default function App() {
  const ref = useRef<HTMLCanvasElement>(null);
  useEffect(() => {
    if (!ref.current) return;
    Chart.defaults.font.family = SERIF;
    const tickFont = { family: SERIF, size: 18 };
    const chart = new Chart(ref.current, {
      type: 'scatter',
      data: {
        datasets: [
          {
            type: 'line',
            label: 'D·B/√B² B₀',
            data: DB_PROFILE.map(([x, v]) => ({ x, y: v })),
            yAxisID: 'yDB',
            borderColor: '#008080',
            borderWidth: 2.2,
            pointRadius: 0,
            cubicInterpolationMode: 'monotone',
            fill: false,
            order: 0,
          } as any,
          {
            label: 'e+',
            data: [...toPoints(POSITRONS_UPPER), ...toPoints(POSITRONS_LOWER)],
            yAxisID: 'y',
            pointStyle: 'triangle',
            pointRadius: 2.2,
            backgroundColor: 'rgba(255,0,0,0.65)',
            borderWidth: 0,
            order: 1,
          },
          {
            label: 'e-',
            data: [...toPoints(ELECTRONS_UPPER), ...toPoints(ELECTRONS_LOWER)],
            yAxisID: 'y',
            pointStyle: 'circle',
            pointRadius: 2.3,
            backgroundColor: 'rgba(0,0,0,0.7)',
            borderWidth: 0,
            order: 2,
          },
        ],
      },
      options: {
        animation: false,
        responsive: false,
        events: [],
        layout: { padding: { top: 63, left: 0, right: 0, bottom: 0 } },
        plugins: { legend: { display: false }, tooltip: { enabled: false }, title: { display: false } },
        scales: {
          x: {
            type: 'linear',
            position: 'bottom',
            min: 1.14,
            max: 3.0,
            afterBuildTicks: (s: any) => { s.ticks = R_TICKS.map((v) => ({ value: v })); },
            afterFit: (s: any) => { s.height = 59; },
            ticks: { callback: (v: any) => Number(v).toFixed(2), font: tickFont, color: '#000', padding: 4, autoSkip: false, maxRotation: 0 },
            grid: { color: '#b0b0b0', lineWidth: 1, tickColor: '#000', tickLength: 5, tickWidth: 1 },
            border: { display: true, color: '#000', width: 1, dash: [4, 2] },
          },
          y: {
            type: 'linear',
            position: 'left',
            min: symlog(-1e5),
            max: symlog(1e5),
            afterBuildTicks: (s: any) => { s.ticks = GAMMA_TICKS.map((v) => ({ value: symlog(v) })); },
            afterFit: (s: any) => { s.width = 90; },
            ticks: { callback: (_v: any, i: number) => GAMMA_TICK_LABELS[i], font: tickFont, color: '#000', padding: 4, autoSkip: false },
            grid: { color: '#b0b0b0', lineWidth: 1, tickColor: '#000', tickLength: 5, tickWidth: 1 },
            border: { display: true, color: '#000', width: 1, dash: [4, 2] },
          },
          yDB: {
            type: 'linear',
            position: 'right',
            min: -0.02,
            max: 0.02,
            afterBuildTicks: (s: any) => { s.ticks = DB_TICKS.map((v) => ({ value: v })); },
            afterFit: (s: any) => { s.width = 107; },
            ticks: { callback: (_v: any, i: number) => DB_TICK_LABELS[i], font: tickFont, color: '#000', padding: 4, autoSkip: false },
            grid: { drawOnChartArea: false, tickColor: '#000', tickLength: 5, tickWidth: 1 },
            border: { display: true, color: '#000', width: 1 },
          },
        },
      } as any,
      plugins: [decorPlugin],
    });
    return () => chart.destroy();
  }, []);
  return (
    <div style={{ position: 'absolute', left: 0, top: 0, width: 669, height: 535, background: '#fff' }}>
      <canvas ref={ref} width={669} height={535} style={{ display: 'block', width: 669, height: 535 }} />
    </div>
  );
}
